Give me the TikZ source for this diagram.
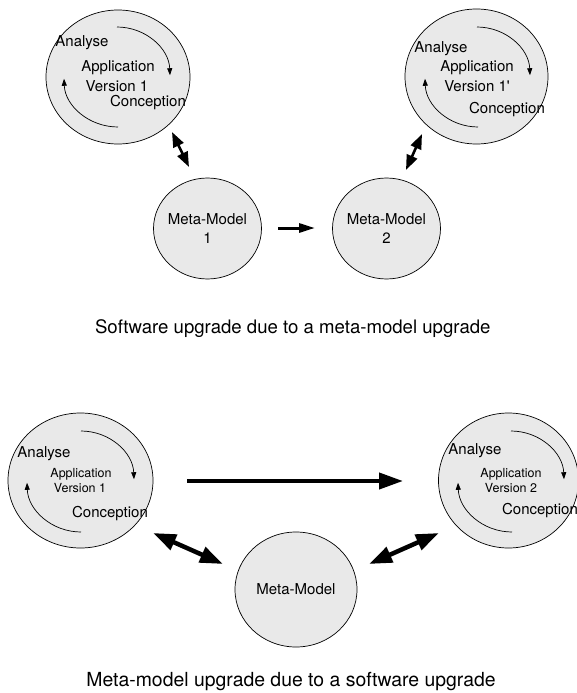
\documentclass[tikz,border=0pt]{standalone}
\usepackage{fontspec}
\setmainfont{TeX Gyre Heros}
\newfontfamily\plainhelv{TeX Gyre Heros}
\usetikzlibrary{shapes.geometric,arrows.meta}
\definecolor{cfill}{HTML}{E9E9E9}
\begin{document}
\begin{tikzpicture}[x=1pt,y=-1pt,
  blob/.style={ellipse,draw,line width=0.7pt,fill=cfill,inner sep=0pt},
  lbl/.style={inner sep=0pt,font=\fontsize{15}{19}\selectfont,align=center},
  smalllbl/.style={inner sep=0pt,font=\fontsize{12.5}{14}\selectfont},
  caplbl/.style={inner sep=0pt,anchor=base,font=\fontsize{18.6}{22}\selectfont},
  cyc/.style={line width=0.7pt,-{Triangle[length=7pt,width=5pt]}},
  dblsmall/.style={line width=2.6pt,{Triangle[length=15pt,width=11pt]}-{Triangle[length=15pt,width=11pt]}},
  dblbig/.style={line width=4.5pt,{Triangle[length=23pt,width=16pt]}-{Triangle[length=23pt,width=16pt]}},
  onesmall/.style={line width=3pt,-{Triangle[length=16pt,width=9pt]}},
  onebig/.style={line width=4pt,-{Triangle[length=24pt,width=16pt]}}
]
\useasboundingbox (0,0) rectangle (577,693);

% ---------- top half ----------
\node[blob,minimum width=144pt,minimum height=134pt] (app1) at (118,77) {};
\draw[cyc] (117,27) arc[start angle=-90,end angle=-2,x radius=53,y radius=50];
\draw[cyc] (118,127) arc[start angle=90,end angle=178,x radius=54,y radius=50];
\node[lbl] (app1a) at (82,43) {Analyse};
\node[lbl] (app1b) at (118,68) {Application};
\node[lbl] (app1c) at (117,86) {Version 1};
\node[lbl] (app1d) at (148,103) {Conception};

\node[blob,minimum width=143pt,minimum height=135pt] (app2) at (476.5,76.5) {};
\draw[cyc] (477,27) arc[start angle=-90,end angle=-2,x radius=53,y radius=50];
\draw[cyc] (478,127) arc[start angle=90,end angle=178,x radius=53,y radius=50];
\node[lbl] (app2a) at (441,49) {Analyse};
\node[lbl] (app2b) at (477,68) {Application};
\node[lbl] (app2c) at (477,86) {Version 1{\plainhelv'}};
\node[lbl] (app2d) at (507,110) {Conception};

\node[blob,minimum width=108pt,minimum height=101pt] (mm1) at (207.5,228.5) {};
\node[lbl] (mm1t) at (207.5,229) {Meta-Model\\1};
\node[blob,minimum width=108pt,minimum height=101pt] (mm2) at (386.5,228.5) {};
\node[lbl] (mm2t) at (386.5,229) {Meta-Model\\2};

\coordinate (a1s) at (172,132);
\coordinate (a1e) at (189,167);
\draw[dblsmall] (a1s) -- (a1e);
\coordinate (a2s) at (422,134);
\coordinate (a2e) at (406,170);
\draw[dblsmall] (a2s) -- (a2e);
\coordinate (a3s) at (278,228);
\coordinate (a3e) at (315,228);
\draw[onesmall] (a3s) -- (a3e);

\node[caplbl] (cap1) at (292.8,333) {Software upgrade due to a meta-model upgrade};

% ---------- bottom half ----------
\node[blob,minimum width=145pt,minimum height=135pt] (app3) at (80.5,480.5) {};
\draw[cyc] (81,431) arc[start angle=-90,end angle=-2,x radius=53,y radius=50];
\draw[cyc] (81,532) arc[start angle=90,end angle=178,x radius=54,y radius=51];
\node[lbl] (app3a) at (44,454) {Analyse};
\node[smalllbl] (app3b) at (81,474) {Application};
\node[smalllbl] (app3c) at (80,488) {Version 1};
\node[lbl] (app3d) at (110,514) {Conception};

\node[blob,minimum width=140pt,minimum height=135pt] (app4) at (508.5,480.5) {};
\draw[cyc] (511,431) arc[start angle=-90,end angle=-2,x radius=53,y radius=50];
\draw[cyc] (512,532) arc[start angle=90,end angle=178,x radius=54,y radius=51];
\node[lbl] (app4a) at (475,451) {Analyse};
\node[smalllbl] (app4b) at (511,474) {Application};
\node[smalllbl] (app4c) at (511,488) {Version 2};
\node[lbl] (app4d) at (540,511) {Conception};

\node[blob,minimum width=122pt,minimum height=115pt] (mm3) at (296,589.5) {};
\node[lbl] (mm3t) at (296,589.5) {Meta-Model};

\coordinate (b1s) at (187,481);
\coordinate (b1e) at (403,481);
\draw[onebig] (b1s) -- (b1e);
\coordinate (b2s) at (153,533);
\coordinate (b2e) at (223,564);
\draw[dblbig] (b2s) -- (b2e);
\coordinate (b3s) at (369,564);
\coordinate (b3e) at (439,533);
\draw[dblbig] (b3s) -- (b3e);

\node[caplbl,font=\fontsize{19.4}{23}\selectfont] (cap2) at (291,686) {Meta-model upgrade due to a software upgrade};
\end{tikzpicture}
\end{document}
